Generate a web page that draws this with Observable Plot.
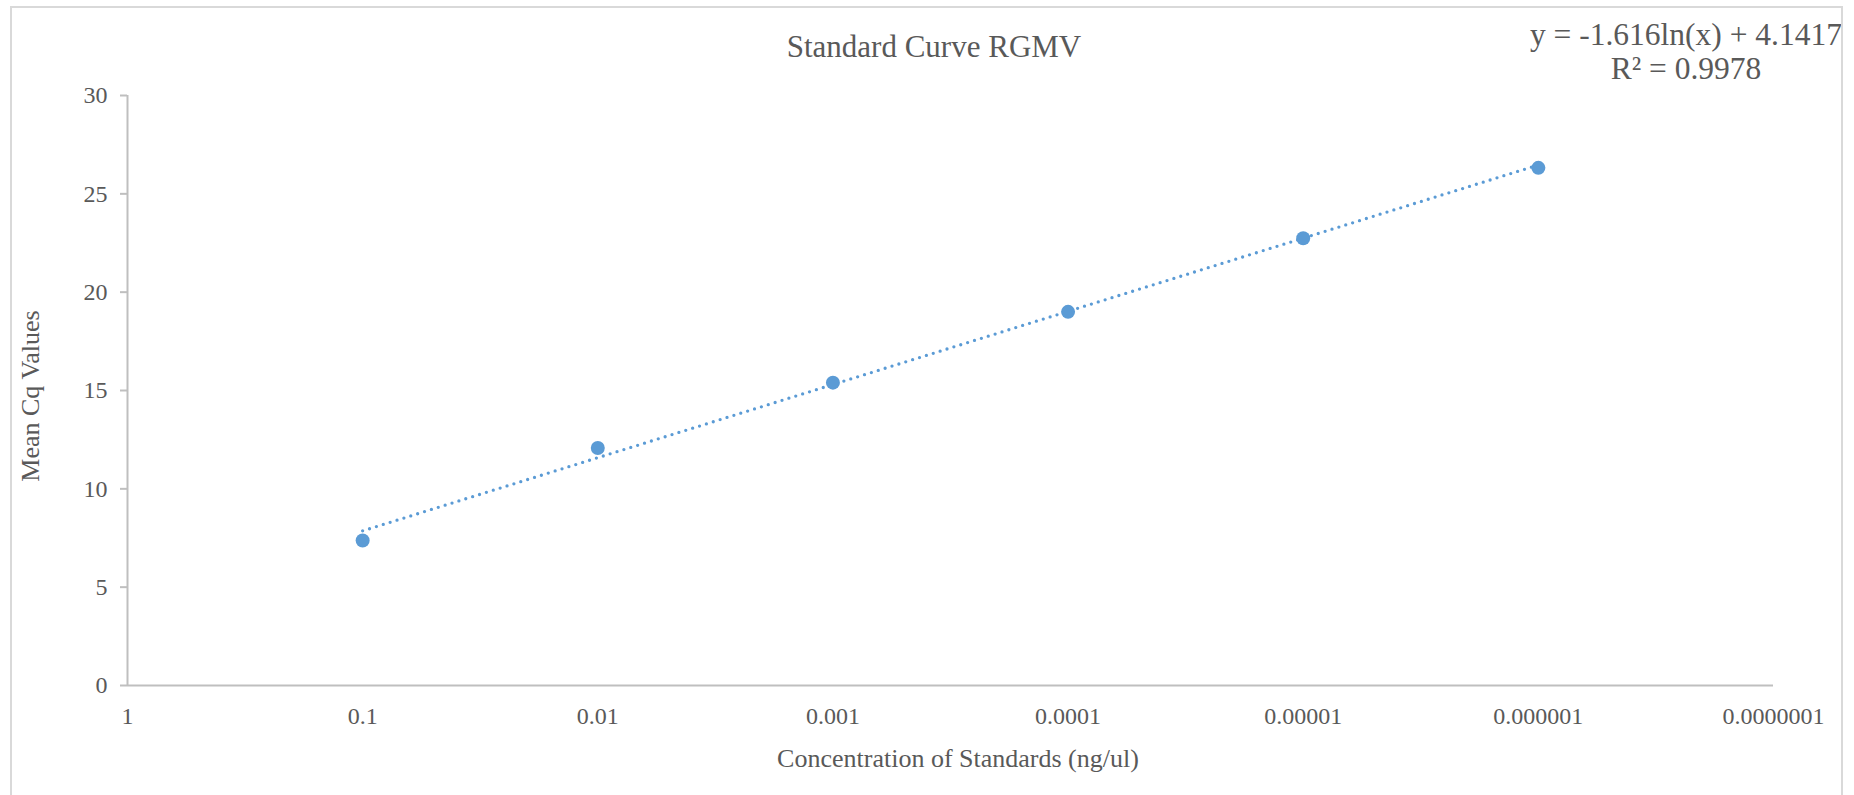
<!DOCTYPE html>
<html>
<head>
<meta charset="utf-8">
<script src="https://cdn.jsdelivr.net/npm/d3@7"></script>
<script src="https://cdn.jsdelivr.net/npm/@observablehq/plot@0.6"></script>
<style>
  html, body { margin: 0; padding: 0; background: #fff; }
  #chart { position: relative; width: 1854px; height: 795px; overflow: hidden; }
  #chart svg { position: absolute; left: 0; top: 0; }
  #frame {
    position: absolute; left: 10px; top: 6px; width: 1833px; height: 900px;
    border: 2px solid #d9d9d9; box-sizing: border-box; pointer-events: none; z-index: 2;
  }
</style>
</head>
<body>
<div id="chart"><div id="frame"></div></div>
<script>
// Standard dilution series (ng/ul) and their mean Cq values
const concentrations = [0.1, 0.01, 0.001, 0.0001, 0.00001, 0.000001];
const meanCq = [7.37, 12.08, 15.4, 19.0, 22.74, 26.32];

// Axis ticks
const xTicks = [1, 0.1, 0.01, 0.001, 0.0001, 0.00001, 0.000001, 0.0000001];
const xTickLabels = ["1", "0.1", "0.01", "0.001", "0.0001", "0.00001", "0.000001", "0.0000001"];
const yTicks = [0, 5, 10, 15, 20, 25, 30];

// Logarithmic trendline: y = slope * ln(x) + intercept
const trendSlope = -1.616;
const trendIntercept = 4.1417;
const rSquared = 0.9978;

const textColor = "#595959";
const axisColor = "#bfbfbf";
const seriesColor = "#5b9bd5";
const font = "'Liberation Serif', 'Times New Roman', serif";

const points = concentrations.map((c, i) => ({c, cq: meanCq[i]}));
const trendEnds = [concentrations[0], concentrations[concentrations.length - 1]];
const trend = trendEnds.map(c => ({c, cq: trendSlope * Math.log(c) + trendIntercept}));

const plot = Plot.plot({
  width: 1854,
  height: 795,
  marginLeft: 127,
  marginRight: 81,
  marginTop: 95,
  marginBottom: 110,
  style: {fontFamily: font, fontSize: "24px", color: textColor, background: "transparent", overflow: "visible"},
  x: {type: "log", domain: [1, 0.0000001], axis: null},
  y: {domain: [0, 30], axis: null},
  marks: [
    Plot.ruleY([0], {stroke: axisColor, strokeWidth: 2}),
    Plot.ruleX([1], {stroke: axisColor, strokeWidth: 2}),
    Plot.axisY(yTicks, {
      tickSize: 7, tickPadding: 13, stroke: axisColor, strokeWidth: 2,
      fill: textColor, fontSize: 24, label: null
    }),
    Plot.axisX(xTicks, {
      tickSize: 0, tickPadding: 21, fill: textColor, fontSize: 24, label: null,
      tickFormat: d => xTickLabels[xTicks.indexOf(d)]
    }),
    Plot.line(trend, {
      x: "c", y: "cq", stroke: seriesColor, strokeWidth: 3.3,
      strokeDasharray: "0 7.2", strokeLinecap: "round"
    }),
    Plot.dot(points, {x: "c", y: "cq", r: 7, fill: seriesColor})
  ]
});

document.getElementById("chart").appendChild(plot);

// Titles and trendline equation
const svg = d3.select(plot);
const addText = (x, y, size, str, rotate) => {
  const t = svg.append("text")
    .attr("text-anchor", "middle")
    .attr("font-family", font)
    .attr("font-size", size)
    .attr("fill", textColor)
    .text(str);
  if (rotate) t.attr("transform", `translate(${x},${y}) rotate(${rotate})`);
  else t.attr("x", x).attr("y", y);
  return t;
};

addText(934, 57, 31, "Standard Curve RGMV");
addText(958, 767, 26, "Concentration of Standards (ng/ul)");
addText(38.5, 396, 26, "Mean Cq Values", -90);
addText(1686, 45, 31.5, `y = ${trendSlope}ln(x) + ${trendIntercept}`);
addText(1686, 79, 31.5, `R\u00b2 = ${rSquared}`);
</script>
</body>
</html>
